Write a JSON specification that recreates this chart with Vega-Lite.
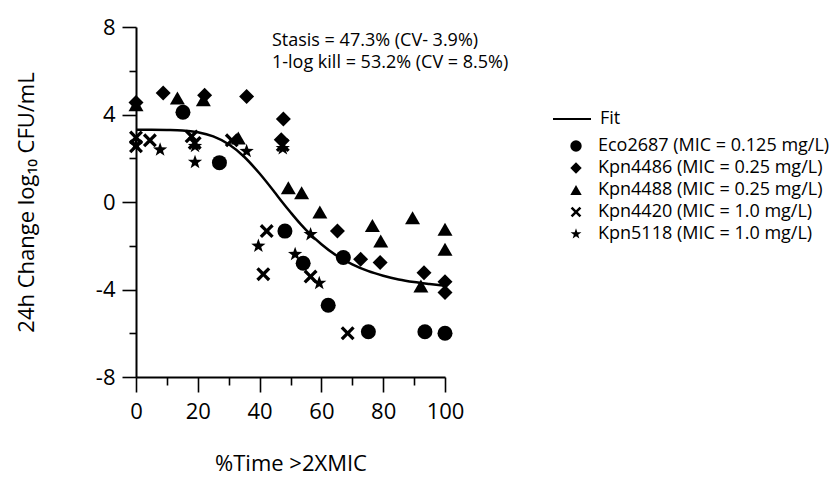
{
  "$schema": "https://vega.github.io/schema/vega-lite/v6.json",
  "width": 309,
  "height": 350,
  "autosize": "none",
  "padding": {"left": 136, "top": 27, "right": 390, "bottom": 100},
  "background": "white",
  "config": {
    "view": {"stroke": null},
    "font": "Open Sans",
    "axis": {
      "grid": false,
      "domainColor": "black",
      "tickColor": "black",
      "labelColor": "black",
      "titleColor": "black",
      "domainWidth": 2,
      "tickWidth": 1.6,
      "labelFont": "Open Sans",
      "titleFont": "Open Sans",
      "labelFontSize": 22,
      "titleFontSize": 22,
      "titleFontWeight": "normal",
      "labelFlush": false,
      "labelOverlap": false
    },
    "legend": {"labelFont": "Open Sans", "labelColor": "black", "labelFontSize": 18, "padding": 0, "labelLimit": 0}
  },
  "datasets": {
    "pts": [
      {"x": 0, "y": 4.55, "strain": "Kpn4486 (MIC = 0.25 mg/L)"},
      {"x": 8.8, "y": 4.98, "strain": "Kpn4486 (MIC = 0.25 mg/L)"},
      {"x": 22.2, "y": 4.88, "strain": "Kpn4486 (MIC = 0.25 mg/L)"},
      {"x": 35.8, "y": 4.82, "strain": "Kpn4486 (MIC = 0.25 mg/L)"},
      {"x": 47.7, "y": 3.79, "strain": "Kpn4486 (MIC = 0.25 mg/L)"},
      {"x": 47, "y": 2.85, "strain": "Kpn4486 (MIC = 0.25 mg/L)"},
      {"x": 65.2, "y": -1.33, "strain": "Kpn4486 (MIC = 0.25 mg/L)"},
      {"x": 72.7, "y": -2.62, "strain": "Kpn4486 (MIC = 0.25 mg/L)"},
      {"x": 79, "y": -2.77, "strain": "Kpn4486 (MIC = 0.25 mg/L)"},
      {"x": 93.2, "y": -3.23, "strain": "Kpn4486 (MIC = 0.25 mg/L)"},
      {"x": 100, "y": -3.65, "strain": "Kpn4486 (MIC = 0.25 mg/L)"},
      {"x": 100, "y": -4.14, "strain": "Kpn4486 (MIC = 0.25 mg/L)"},
      {"x": 0, "y": 4.45, "strain": "Kpn4488 (MIC = 0.25 mg/L)"},
      {"x": 13.4, "y": 4.75, "strain": "Kpn4488 (MIC = 0.25 mg/L)"},
      {"x": 21.8, "y": 4.67, "strain": "Kpn4488 (MIC = 0.25 mg/L)"},
      {"x": 33.1, "y": 2.93, "strain": "Kpn4488 (MIC = 0.25 mg/L)"},
      {"x": 49.3, "y": 0.65, "strain": "Kpn4488 (MIC = 0.25 mg/L)"},
      {"x": 53.6, "y": 0.42, "strain": "Kpn4488 (MIC = 0.25 mg/L)"},
      {"x": 59.5, "y": -0.46, "strain": "Kpn4488 (MIC = 0.25 mg/L)"},
      {"x": 76.5, "y": -1.07, "strain": "Kpn4488 (MIC = 0.25 mg/L)"},
      {"x": 79.2, "y": -1.78, "strain": "Kpn4488 (MIC = 0.25 mg/L)"},
      {"x": 89.5, "y": -0.72, "strain": "Kpn4488 (MIC = 0.25 mg/L)"},
      {"x": 92.2, "y": -3.84, "strain": "Kpn4488 (MIC = 0.25 mg/L)"},
      {"x": 100, "y": -1.25, "strain": "Kpn4488 (MIC = 0.25 mg/L)"},
      {"x": 100, "y": -2.16, "strain": "Kpn4488 (MIC = 0.25 mg/L)"},
      {"x": 15.2, "y": 4.1, "strain": "Eco2687 (MIC = 0.125 mg/L)"},
      {"x": 27, "y": 1.8, "strain": "Eco2687 (MIC = 0.125 mg/L)"},
      {"x": 48.2, "y": -1.33, "strain": "Eco2687 (MIC = 0.125 mg/L)"},
      {"x": 54.1, "y": -2.8, "strain": "Eco2687 (MIC = 0.125 mg/L)"},
      {"x": 62.2, "y": -4.72, "strain": "Eco2687 (MIC = 0.125 mg/L)"},
      {"x": 67.1, "y": -2.54, "strain": "Eco2687 (MIC = 0.125 mg/L)"},
      {"x": 75.2, "y": -5.93, "strain": "Eco2687 (MIC = 0.125 mg/L)"},
      {"x": 93.5, "y": -5.93, "strain": "Eco2687 (MIC = 0.125 mg/L)"},
      {"x": 100, "y": -6.0, "strain": "Eco2687 (MIC = 0.125 mg/L)"},
      {"x": 0, "y": 2.95, "strain": "Kpn4420 (MIC = 1.0 mg/L)"},
      {"x": 0, "y": 2.55, "strain": "Kpn4420 (MIC = 1.0 mg/L)"},
      {"x": 4.5, "y": 2.82, "strain": "Kpn4420 (MIC = 1.0 mg/L)"},
      {"x": 18, "y": 3.0, "strain": "Kpn4420 (MIC = 1.0 mg/L)"},
      {"x": 19, "y": 2.7, "strain": "Kpn4420 (MIC = 1.0 mg/L)"},
      {"x": 31, "y": 2.82, "strain": "Kpn4420 (MIC = 1.0 mg/L)"},
      {"x": 47.5, "y": 2.6, "strain": "Kpn4420 (MIC = 1.0 mg/L)"},
      {"x": 42.3, "y": -1.33, "strain": "Kpn4420 (MIC = 1.0 mg/L)"},
      {"x": 41.2, "y": -3.3, "strain": "Kpn4420 (MIC = 1.0 mg/L)"},
      {"x": 56.5, "y": -3.41, "strain": "Kpn4420 (MIC = 1.0 mg/L)"},
      {"x": 68.5, "y": -6.0, "strain": "Kpn4420 (MIC = 1.0 mg/L)"},
      {"x": 0, "y": 2.6, "strain": "Kpn5118 (MIC = 1.0 mg/L)"},
      {"x": 7.8, "y": 2.39, "strain": "Kpn5118 (MIC = 1.0 mg/L)"},
      {"x": 19.1, "y": 2.55, "strain": "Kpn5118 (MIC = 1.0 mg/L)"},
      {"x": 19.1, "y": 1.82, "strain": "Kpn5118 (MIC = 1.0 mg/L)"},
      {"x": 35.8, "y": 2.32, "strain": "Kpn5118 (MIC = 1.0 mg/L)"},
      {"x": 47.5, "y": 2.45, "strain": "Kpn5118 (MIC = 1.0 mg/L)"},
      {"x": 39.6, "y": -2.01, "strain": "Kpn5118 (MIC = 1.0 mg/L)"},
      {"x": 51.5, "y": -2.39, "strain": "Kpn5118 (MIC = 1.0 mg/L)"},
      {"x": 56.5, "y": -1.48, "strain": "Kpn5118 (MIC = 1.0 mg/L)"},
      {"x": 59.3, "y": -3.71, "strain": "Kpn5118 (MIC = 1.0 mg/L)"}
    ],
    "fit": [
      {"x": 0, "y": 3.3}, {"x": 5, "y": 3.3}, {"x": 10, "y": 3.29}, {"x": 15, "y": 3.27},
      {"x": 20, "y": 3.19}, {"x": 25, "y": 3.0}, {"x": 30, "y": 2.64}, {"x": 35, "y": 2.07},
      {"x": 40, "y": 1.3}, {"x": 45, "y": 0.42}, {"x": 47.3, "y": 0.0}, {"x": 50, "y": -0.47},
      {"x": 53.2, "y": -1.0}, {"x": 55, "y": -1.27}, {"x": 60, "y": -1.93}, {"x": 65, "y": -2.46},
      {"x": 70, "y": -2.85}, {"x": 75, "y": -3.15}, {"x": 80, "y": -3.37}, {"x": 85, "y": -3.54},
      {"x": 90, "y": -3.66}, {"x": 95, "y": -3.75}, {"x": 100, "y": -3.83}
    ],
    "notes": [
      {"x": 44, "y": 7.11, "label": "Stasis = 47.3% (CV- 3.9%)"},
      {"x": 44, "y": 6.12, "label": "1-log kill = 53.2% (CV = 8.5%)"}
    ]
  },
  "layer": [
    {
      "data": {"name": "pts"},
      "mark": {"type": "point", "opacity": 0},
      "encoding": {
        "x": {"field": "x", "type": "quantitative", "scale": {"domain": [0, 100], "nice": false},
          "axis": {"orient": "bottom", "values": [10, 30, 50, 70, 90], "labels": false, "tickSize": 8, "domain": false, "title": null}},
        "y": {"field": "y", "type": "quantitative", "scale": {"domain": [-8, 8], "nice": false},
          "axis": {"orient": "left", "values": [-6, -2, 2, 6], "labels": false, "tickSize": 7, "domain": false, "title": null}}
      }
    },
    {
      "data": {"name": "fit"},
      "mark": {"type": "line", "color": "black", "strokeWidth": 2.5, "interpolate": "monotone"},
      "encoding": {
        "x": {"field": "x", "type": "quantitative", "axis": null},
        "y": {"field": "y", "type": "quantitative", "axis": null},
        "color": {"datum": "Fit", "type": "nominal", "scale": {"range": ["black"]},
          "legend": {"orient": "none", "legendX": 416, "legendY": 72, "title": null, "symbolType": "stroke", "symbolSize": 1444, "symbolStrokeWidth": 2, "labelOffset": 8}}
      }
    },
    {
      "data": {"name": "pts"},
      "mark": {"type": "point", "filled": true, "color": "black", "opacity": 1, "size": 225, "strokeWidth": 0},
      "encoding": {
        "x": {"field": "x", "type": "quantitative",
          "axis": {"orient": "bottom", "values": [0, 20, 40, 60, 80, 100], "tickSize": 15, "labelPadding": 9, "title": "%Time >2XMIC", "titleY": 93, "titleBaseline": "alphabetic"}},
        "y": {"field": "y", "type": "quantitative",
          "axis": {"orient": "left", "values": [-8, -4, 0, 4, 8], "tickSize": 14, "labelPadding": 7, "labelExpr": "replace(datum.label, '−', '-')", "title": "24h Change log₁₀ CFU/mL", "titleX": -103, "titleY": 175, "titleBaseline": "alphabetic", "titleAlign": "center"}},
        "shape": {"field": "strain", "type": "nominal",
          "scale": {
            "domain": ["Eco2687 (MIC = 0.125 mg/L)", "Kpn4486 (MIC = 0.25 mg/L)", "Kpn4488 (MIC = 0.25 mg/L)", "Kpn4420 (MIC = 1.0 mg/L)", "Kpn5118 (MIC = 1.0 mg/L)"],
            "range": ["circle", "diamond", "triangle-up",
              "M0.622,-0.933L0.933,-0.622L0.311,0L0.933,0.622L0.622,0.933L0,0.311L-0.622,0.933L-0.933,0.622L-0.311,0L-0.933,-0.622L-0.622,-0.933L0,-0.311Z",
              "M0,-1L0.235,-0.324L0.951,-0.309L0.38,0.124L0.588,0.809L0,0.4L-0.588,0.809L-0.38,0.124L-0.951,-0.309L-0.235,-0.324Z"]
          },
          "legend": {"orient": "none", "legendX": 431, "legendY": 110, "title": null, "symbolSize": 130, "symbolFillColor": "black", "symbolStrokeWidth": 0, "labelOffset": 13, "rowPadding": 4}}
      }
    },
    {
      "data": {"name": "notes"},
      "mark": {"type": "text", "align": "left", "baseline": "alphabetic", "fontSize": 18, "font": "Open Sans", "color": "black"},
      "encoding": {
        "x": {"field": "x", "type": "quantitative", "axis": null},
        "y": {"field": "y", "type": "quantitative", "axis": null},
        "text": {"field": "label"}
      }
    }
  ],
  "resolve": {"axis": {"x": "independent", "y": "independent"}}
}
